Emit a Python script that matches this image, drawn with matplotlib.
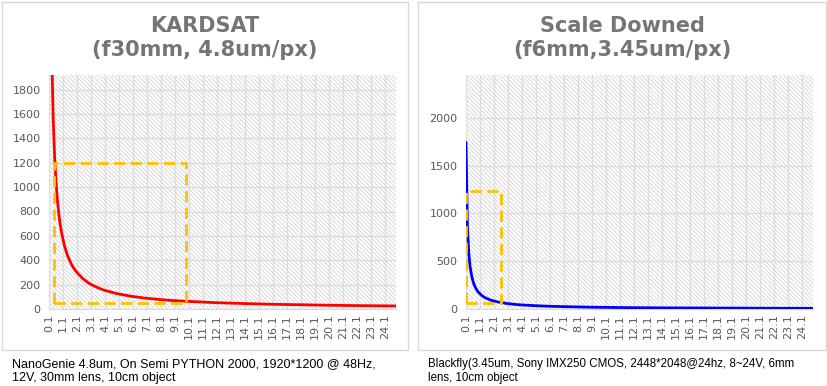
import matplotlib.pyplot as plt
from matplotlib.patches import Rectangle
import numpy as np

# distance (category) and pixel counts
dist = [0.1, 0.2, 0.3, 0.4, 0.5, 0.6, 0.7, 0.8, 0.9, 1.0,
        1.2, 1.4, 1.6, 1.8, 2.0, 2.5, 3.0, 3.5, 4.0, 5.0,
        6.0, 7.0, 8.0, 9.0, 10.0, 12.0, 14.0, 16.0, 18.0, 20.0,
        22.0, 24.9]
kardsat_px = [6250, 3125, 2083, 1563, 1250, 1042, 893, 781, 694, 625,
              521, 446, 391, 347, 313, 250, 208, 179, 156, 125,
              104, 89, 78, 69, 63, 52, 45, 39, 35, 31,
              28, 25]
scaled_px = [1739, 870, 580, 435, 348, 290, 248, 217, 193, 174,
             145, 124, 109, 97, 87, 70, 58, 50, 43, 35,
             29, 25, 22, 19, 17, 14, 12, 11, 10, 9,
             8, 7]

tick_labels = ["%.1f" % (0.1 + i) for i in range(25)]

titles = ["KARDSAT\n(f30mm, 4.8um/px)", "Scale Downed\n(f6mm,3.45um/px)"]
captions = ["NanoGenie 4.8um, On Semi PYTHON 2000, 1920*1200 @ 48Hz,\n12V, 30mm lens, 10cm object",
            "Blackfly(3.45um, Sony IMX250 CMOS, 2448*2048@24hz, 8~24V, 6mm\nlens, 10cm object"]
caption_size = [9, 8.3]
y_max = [1920, 2448]
y_top_tick = [1800, 2000]
y_step = [200, 500]
colors = ["#ff0000", "#0000ff"]
# dashed highlight boxes: (x0, y0, x1, y1)
boxes = [(0.45, 50, 9.9, 1200), (0.12, 62, 2.6, 1230)]

plt.rcParams['hatch.linewidth'] = 0.6

fig = plt.figure(figsize=(8.27, 3.86), dpi=100)

panels = [(49, 2, 406), (466, 418, 408)]  # axes left px, box left px, box width px
series = [kardsat_px, scaled_px]

for i in range(2):
    ax_left, box_left, box_w = panels[i]
    # outer chart border
    fig.add_artist(Rectangle((box_left / 827, 1 - 350 / 386), box_w / 827, 348 / 386,
                             transform=fig.transFigure, fill=False,
                             edgecolor="#d9d9d9", linewidth=1.0))
    ax = fig.add_axes([ax_left / 827, 1 - 309 / 386, 347 / 827, 234 / 386])
    ax.set_facecolor("white")
    ax.add_patch(Rectangle((0, 0), 1, 1, transform=ax.transAxes, facecolor="white",
                           edgecolor="#d2d2d2", hatch="\\\\\\\\\\\\\\\\", linewidth=0, zorder=0))

    ax.plot(dist, series[i], color=colors[i], linewidth=2.0, zorder=3)

    x0, y0, x1, y1 = boxes[i]
    ax.plot([x0, x1, x1, x0, x0], [y0, y0, y1, y1, y0], color="#ffc000",
            linewidth=2.0, linestyle=(0, (4, 2)), zorder=4)

    ax.set_xlim(0.1, 24.9)
    ax.set_ylim(0, y_max[i])
    ax.set_xticks([0.1 + k for k in range(25)])
    ax.set_xticklabels(tick_labels, rotation=90, fontsize=8, color="#595959")
    ax.set_yticks(np.arange(0, y_top_tick[i] + 1, y_step[i]))
    ax.tick_params(axis="y", length=0, labelsize=8, labelcolor="#595959", pad=6)
    ax.tick_params(axis="x", length=0, pad=4)
    ax.grid(True, color="#dcdcdc", linewidth=0.9, zorder=1)
    ax.set_axisbelow(True)
    for side in ["top", "right", "left"]:
        ax.spines[side].set_visible(False)
    ax.spines["bottom"].set_color("#d9d9d9")

    cx = (box_left + box_w / 2) / 827
    fig.text(cx, 1 - 38 / 386, titles[i], ha="center", va="center", fontsize=15,
             fontweight="bold", color="#757575", linespacing=1.3)
    fig.text((box_left + 10) / 827, 1 - 371 / 386, captions[i], ha="left", va="center",
             fontsize=caption_size[i], family="Liberation Sans", color="black",
             linespacing=1.3)

fig.savefig("out.png", dpi=100)
